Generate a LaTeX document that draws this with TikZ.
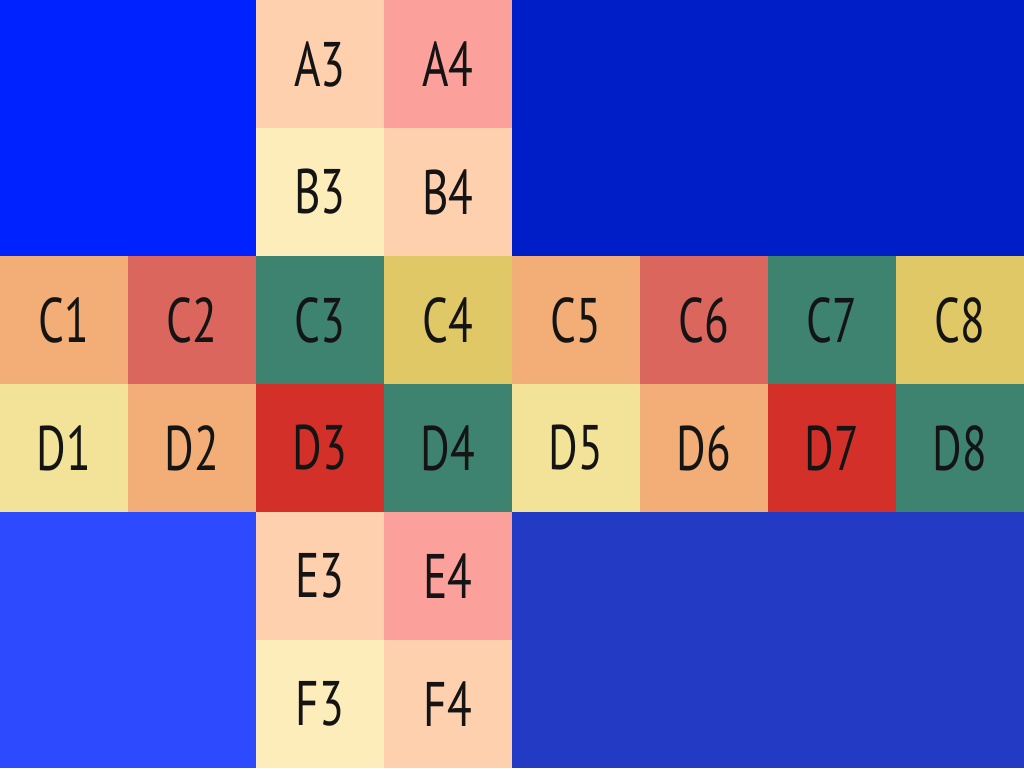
\documentclass[tikz,border=0pt]{standalone}
\usepackage{fontspec}
\setmainfont{PT Sans}[FakeStretch=0.72]
\usepackage{tikz}
\usetikzlibrary{positioning}
\definecolor{blueTL}{RGB}{0,34,255}
\definecolor{blueTR}{RGB}{0,30,200}
\definecolor{blueBL}{RGB}{46,74,255}
\definecolor{blueBR}{RGB}{34,58,196}
\definecolor{peach}{RGB}{255,208,174}
\definecolor{pinkish}{RGB}{252,160,156}
\definecolor{cream}{RGB}{253,237,187}
\definecolor{apricot}{RGB}{242,174,118}
\definecolor{coral}{RGB}{218,102,93}
\definecolor{teal}{RGB}{62,131,112}
\definecolor{mustard}{RGB}{224,200,102}
\definecolor{straw}{RGB}{242,227,152}
\definecolor{brick}{RGB}{210,48,41}
\definecolor{inkgray}{RGB}{20,20,20}

\begin{document}
\begin{tikzpicture}[
  node distance=0pt,
  cell/.style={rectangle,minimum width=1cm,minimum height=1cm,inner sep=0pt,outer sep=0pt,
    text=inkgray,font=\fontsize{14}{16}\selectfont}
]
  \useasboundingbox (0,0) rectangle (8,6);
  % blue corner blocks
  \fill[blueTL] (0,4) rectangle (2,6);
  \fill[blueTR] (4,4) rectangle (8,6);
  \fill[blueBL] (0,0) rectangle (2,2);
  \fill[blueBR] (4,0) rectangle (8,2);

  % top arm
  \node[cell,fill=peach] (a3) at (2.5,5.5) {A3};
  \node[cell,fill=pinkish,right=of a3] (a4) {A4};
  \node[cell,fill=cream,below=of a3] (b3) {B3};
  \node[cell,fill=peach,right=of b3] (b4) {B4};

  % row C
  \node[cell,fill=apricot] (c1) at (0.5,3.5) {C1};
  \node[cell,fill=coral,right=of c1] (c2) {C2};
  \node[cell,fill=teal,right=of c2] (c3) {C3};
  \node[cell,fill=mustard,right=of c3] (c4) {C4};
  \node[cell,fill=apricot,right=of c4] (c5) {C5};
  \node[cell,fill=coral,right=of c5] (c6) {C6};
  \node[cell,fill=teal,right=of c6] (c7) {C7};
  \node[cell,fill=mustard,right=of c7] (c8) {C8};

  % row D
  \node[cell,fill=straw,below=of c1] (d1) {D1};
  \node[cell,fill=apricot,right=of d1] (d2) {D2};
  \node[cell,fill=brick,right=of d2] (d3) {D3};
  \node[cell,fill=teal,right=of d3] (d4) {D4};
  \node[cell,fill=straw,right=of d4] (d5) {D5};
  \node[cell,fill=apricot,right=of d5] (d6) {D6};
  \node[cell,fill=brick,right=of d6] (d7) {D7};
  \node[cell,fill=teal,right=of d7] (d8) {D8};

  % bottom arm
  \node[cell,fill=peach,below=of d3] (e3) {E3};
  \node[cell,fill=pinkish,right=of e3] (e4) {E4};
  \node[cell,fill=cream,below=of e3] (f3) {F3};
  \node[cell,fill=peach,right=of f3] (f4) {F4};
\end{tikzpicture}
\end{document}
